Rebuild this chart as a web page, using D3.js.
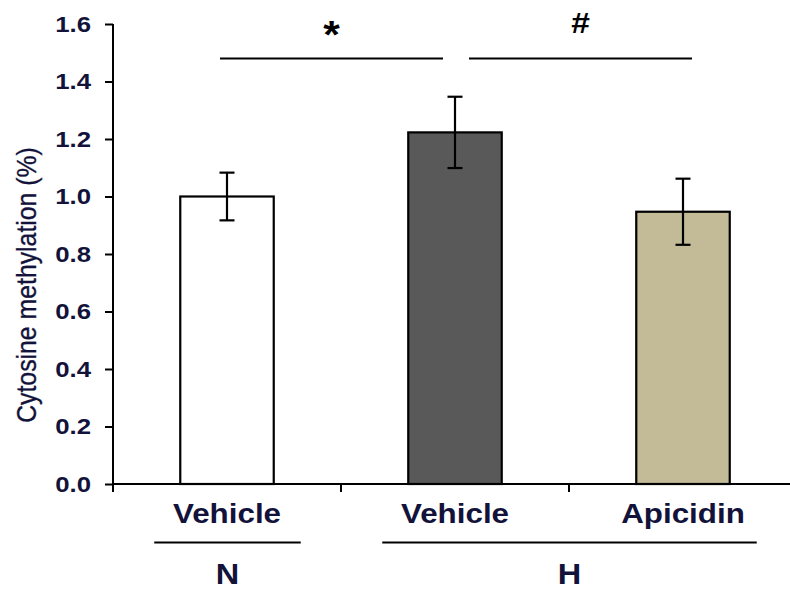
<!DOCTYPE html>
<html>
<head>
<meta charset="utf-8">
<script src="https://cdn.jsdelivr.net/npm/d3@7"></script>
<style>
  body { margin: 0; background: #fff; }
  svg { display: block; font-family: Arial, "Liberation Sans", sans-serif; }
</style>
</head>
<body>
<svg id="chart" width="790" height="593"></svg>
<script>
// data
const categories = ["N-Vehicle", "H-Vehicle", "H-Apicidin"];
const tickNames = ["Vehicle", "Vehicle", "Apicidin"];
const means = [1.00, 1.223, 0.947];
const sems = [0.083, 0.124, 0.115];
const fills = ["#ffffff", "#595959", "#c3bb97"];
const groups = [
  { label: "N", first: "N-Vehicle", last: "N-Vehicle" },
  { label: "H", first: "H-Vehicle", last: "H-Apicidin" }
];
const sigs = [
  { a: "N-Vehicle", b: "H-Vehicle", sym: "*", level: 1.48 },
  { a: "H-Vehicle", b: "H-Apicidin", sym: "#", level: 1.48 }
];
const yTicks = [0, 0.2, 0.4, 0.6, 0.8, 1.0, 1.2, 1.4, 1.6];

const svg = d3.select("#chart");
const ink = "#12123a";
const sx = 1.12; // horizontal stretch of the lettering

const x = d3.scaleBand().domain(categories).range([113, 797])
  .paddingInner(0.59).paddingOuter(0.295);
const y = d3.scaleLinear().domain([0, 1.6]).range([484, 24]);
const cx = c => x(c) + x.bandwidth() / 2;

// bars
svg.append("g").selectAll("rect")
  .data(categories)
  .join("rect")
  .attr("x", d => x(d))
  .attr("y", (d, i) => y(means[i]))
  .attr("width", x.bandwidth())
  .attr("height", (d, i) => y(0) - y(means[i]))
  .attr("fill", (d, i) => fills[i])
  .attr("stroke", "#000")
  .attr("stroke-width", 2.2);

// error bars
const eb = svg.append("g").attr("stroke", "#000").attr("stroke-width", 2.2);
categories.forEach((c, i) => {
  const hi = y(means[i] + sems[i]), lo = y(means[i] - sems[i]);
  eb.append("line").attr("x1", cx(c)).attr("x2", cx(c)).attr("y1", hi).attr("y2", lo);
  eb.append("line").attr("x1", cx(c) - 7.5).attr("x2", cx(c) + 7.5).attr("y1", hi).attr("y2", hi);
  eb.append("line").attr("x1", cx(c) - 7.5).attr("x2", cx(c) + 7.5).attr("y1", lo).attr("y2", lo);
});

// y axis
const yAxis = svg.append("g")
  .attr("transform", `translate(${x.range()[0]},0)`)
  .call(d3.axisLeft(y).tickValues(yTicks).tickFormat(d3.format(".1f")).tickSize(8));
yAxis.select(".domain").remove();
yAxis.append("line").attr("x1", 0).attr("x2", 0).attr("y1", y(1.6)).attr("y2", y(0) + 8)
  .attr("stroke", "#000").attr("stroke-width", 2);
yAxis.selectAll(".tick line").attr("stroke", "#000").attr("stroke-width", 2);
yAxis.selectAll(".tick text")
  .attr("x", 0)
  .attr("transform", `translate(-22,0) scale(${sx},1)`)
  .attr("fill", ink)
  .attr("font-size", 23)
  .attr("font-weight", "bold")
  .attr("font-family", "Arial, 'Liberation Sans', sans-serif");

// x axis with boundary ticks
const step = x.step();
const bounds = categories.map(c => x(c) - step * x.paddingInner() / 2).concat([x.range()[1]]);
const xa = svg.append("g").attr("stroke", "#000").attr("stroke-width", 2);
xa.append("line").attr("x1", x.range()[0]).attr("x2", x.range()[1]).attr("y1", y(0)).attr("y2", y(0));
xa.selectAll("line.tk").data(bounds).join("line").attr("class", "tk")
  .attr("x1", d => d).attr("x2", d => d).attr("y1", y(0)).attr("y2", y(0) + 8);

// x labels
svg.append("g").selectAll("text")
  .data(categories)
  .join("text")
  .attr("transform", d => `translate(${cx(d)},523) scale(${sx},1)`)
  .attr("text-anchor", "middle")
  .attr("font-size", 28)
  .attr("font-weight", "bold")
  .attr("fill", ink)
  .text((d, i) => tickNames[i]);

// group lines and labels
const gg = svg.append("g");
groups.forEach(g => {
  const x1 = x(g.first) - 26, x2 = x(g.last) + x.bandwidth() + 27;
  gg.append("line").attr("x1", x1).attr("x2", x2).attr("y1", 542.5).attr("y2", 542.5)
    .attr("stroke", "#000").attr("stroke-width", 2);
  gg.append("text")
    .attr("transform", `translate(${(x1 + x2) / 2},584) scale(${sx},1)`)
    .attr("text-anchor", "middle")
    .attr("font-size", 29)
    .attr("font-weight", "bold")
    .attr("fill", ink)
    .text(g.label);
});

// significance
const sg = svg.append("g");
sigs.forEach((s, i) => {
  const x1 = i === 0 ? cx(s.a) - 7 : cx(s.a) + 14;
  const x2 = i === 0 ? cx(s.b) - 12 : cx(s.b) + 9;
  const star = s.sym === "*";
  sg.append("line").attr("x1", x1).attr("x2", x2).attr("y1", y(s.level)).attr("y2", y(s.level))
    .attr("stroke", "#000").attr("stroke-width", 2.2);
  sg.append("text")
    .attr("transform", `translate(${(x1 + x2) / 2},${star ? 48 : 33}) scale(${sx},1)`)
    .attr("text-anchor", "middle")
    .attr("font-size", star ? 38 : 30)
    .attr("font-weight", "bold")
    .attr("fill", "#000")
    .text(s.sym);
});

// y title
svg.append("text")
  .attr("transform", `translate(36,285) rotate(-90) scale(1,${sx})`)
  .attr("text-anchor", "middle")
  .attr("font-size", 24.8)
  .attr("fill", ink)
  .attr("stroke", ink)
  .attr("stroke-width", 0.3)
  .text("Cytosine methylation (%)");
</script>
</body>
</html>
